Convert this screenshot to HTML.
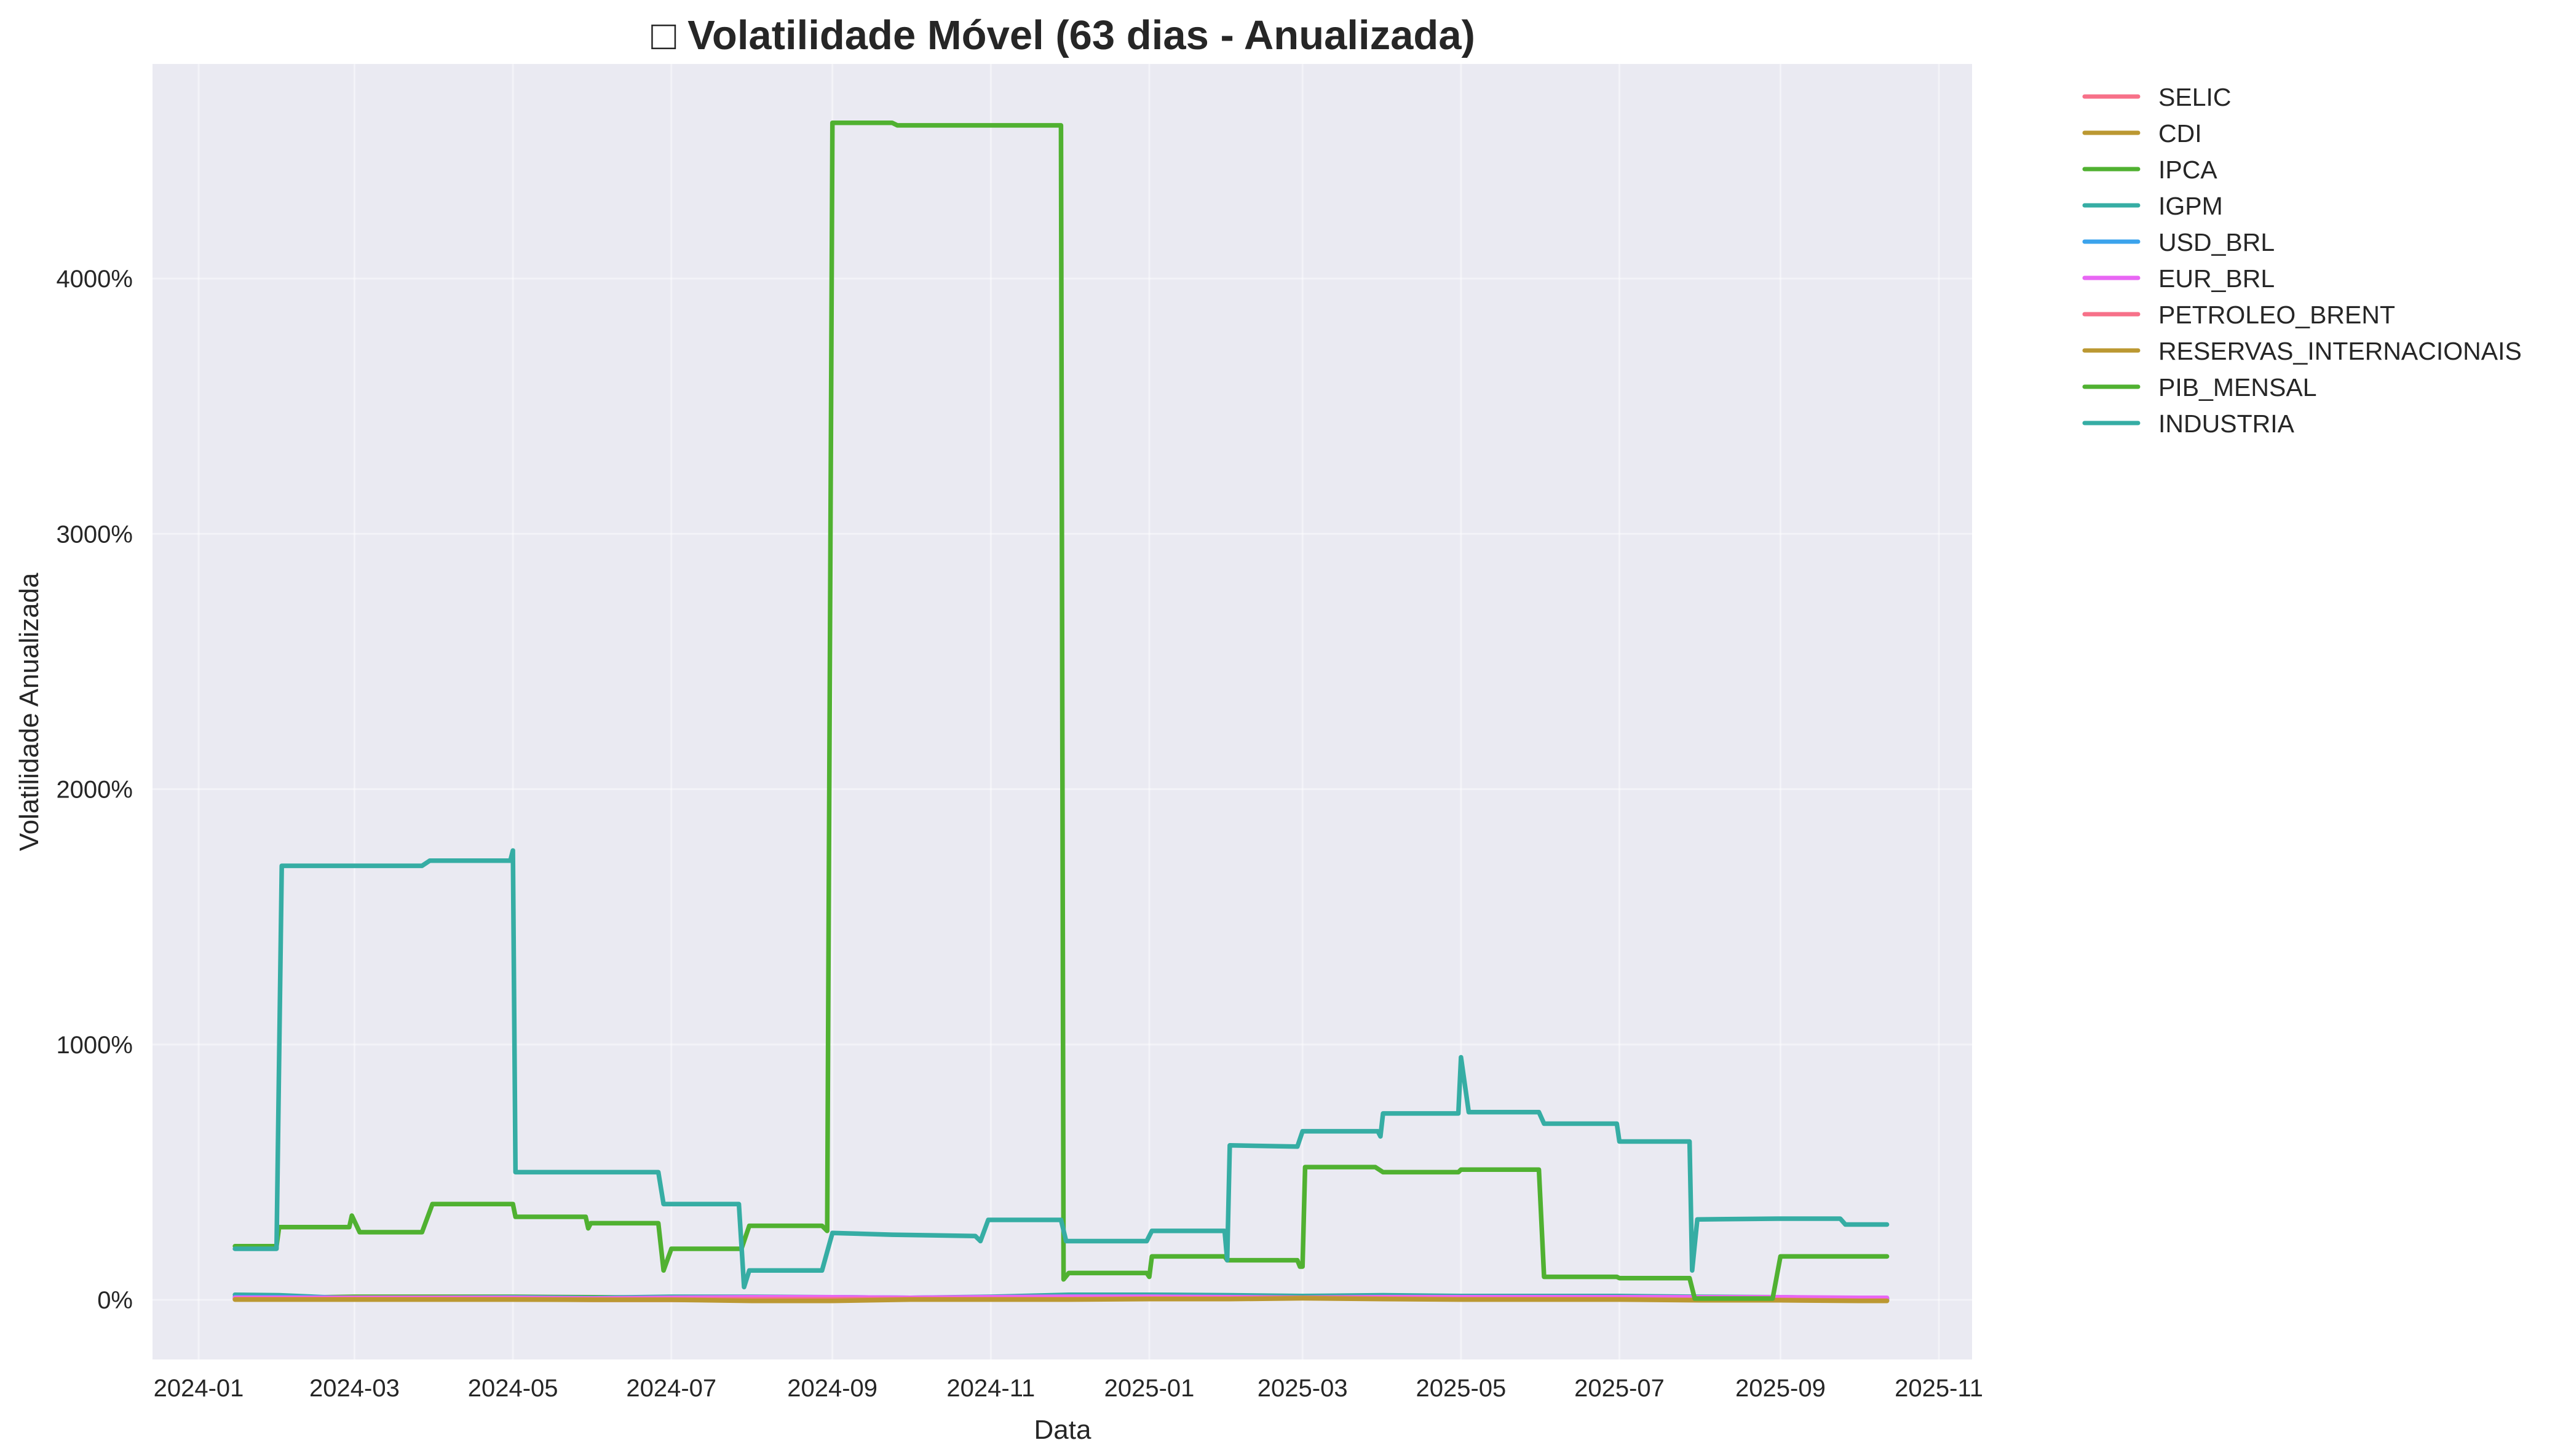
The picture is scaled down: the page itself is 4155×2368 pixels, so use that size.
<!DOCTYPE html>
<html><head><meta charset="utf-8">
<style>
html,body{margin:0;padding:0;background:#fff;}
svg{display:block;font-family:"Liberation Sans","DejaVu Sans",sans-serif;}
</style></head>
<body>
<svg id="chart" width="4155" height="2368" viewBox="0 0 4155 2368" xmlns="http://www.w3.org/2000/svg">
  <rect x="0" y="0" width="4155" height="2368" fill="#ffffff"/>
  <text x="1729" y="80" text-anchor="middle" font-size="67" font-weight="bold" fill="#262626">□ Volatilidade Móvel (63 dias - Anualizada)</text>
  <rect x="248" y="104" width="2959" height="2107" fill="#eaeaf2"/>
  <g id="grid"></g>
  <g id="series"></g>
  <g id="axes"></g>
  <text x="1728" y="2340" text-anchor="middle" font-size="44" fill="#262626">Data</text>
  <text transform="translate(62,1158) rotate(-90)" text-anchor="middle" font-size="44" fill="#262626">Volatilidade Anualizada</text>
  <g id="legend"></g>
</svg>
<script>
const seriesNames = ["SELIC","CDI","IPCA","IGPM","USD_BRL","EUR_BRL","PETROLEO_BRENT","RESERVAS_INTERNACIONAIS","PIB_MENSAL","INDUSTRIA"];
const xTickLabels = ["2024-01","2024-03","2024-05","2024-07","2024-09","2024-11","2025-01","2025-03","2025-05","2025-07","2025-09","2025-11"];
const yTickValues = [0,1000,2000,3000,4000];
const smallDates = ["2024-01-15","2024-02-01","2024-03-01","2024-04-01","2024-05-01","2024-06-01","2024-07-01","2024-08-01","2024-09-01","2024-10-01","2024-11-01","2024-12-01","2025-01-01","2025-02-01","2025-03-01","2025-04-01","2025-05-01","2025-06-01","2025-07-01","2025-08-01","2025-09-01","2025-10-01","2025-10-12"];
const selicValues = [2,2,2,2,2,0,0,0,0,2,2,2,5,5,8,5,3,3,3,0,0,-3,-3];
const cdiValues = [3,3,3,3,3,2,2,-3,-3,3,3,3,5,5,8,5,3,3,3,0,0,-3,-3];
const ipcaValues = [5,8,12,12,12,10,8,5,5,5,8,10,10,12,12,15,15,10,10,5,5,5,5];
const igpmValues = [20,18,5,8,10,8,12,12,10,8,12,20,20,18,15,18,15,15,15,12,10,0,0];
const usdValues = [10,10,8,8,8,5,8,10,10,8,10,12,12,10,8,10,10,10,10,10,10,5,5];
const eurValues = [8,8,8,8,8,5,8,10,10,8,10,12,12,10,8,10,10,10,10,10,10,8,8];
const brentValues = [3,3,3,3,3,2,2,2,2,3,3,3,5,5,8,5,3,3,3,0,0,-3,-3];
const reservasValues = [1,1,1,1,1,0,0,-4,-4,1,1,1,3,3,6,3,1,1,1,-2,-2,-4,-4];
const pibDates = ["2024-01-15","2024-01-31","2024-02-01","2024-02-28","2024-02-29","2024-03-03","2024-03-27","2024-03-31","2024-05-01","2024-05-02","2024-05-29","2024-05-30","2024-05-31","2024-06-26","2024-06-28","2024-07-01","2024-07-28","2024-07-31","2024-08-28","2024-08-30","2024-09-01","2024-09-24","2024-09-26","2024-11-28","2024-11-29","2024-12-01","2024-12-31","2025-01-01","2025-01-02","2025-01-30","2025-01-31","2025-02-27","2025-02-28","2025-03-01","2025-03-02","2025-03-29","2025-04-01","2025-04-30","2025-05-01","2025-05-31","2025-06-02","2025-06-30","2025-07-01","2025-07-28","2025-07-30","2025-08-29","2025-09-01","2025-10-12"];
const pibValues = [210,210,285,285,330,265,265,375,375,325,325,280,300,300,115,200,200,290,290,270,4610,4610,4600,4600,80,105,105,90,170,170,155,155,130,130,520,520,500,500,510,510,90,90,85,85,5,5,170,170];
const indDates = ["2024-01-15","2024-01-31","2024-02-02","2024-03-27","2024-03-30","2024-04-30","2024-05-01","2024-05-02","2024-06-26","2024-06-28","2024-07-27","2024-07-29","2024-07-31","2024-08-28","2024-09-01","2024-09-24","2024-10-26","2024-10-28","2024-10-31","2024-11-28","2024-11-30","2024-12-31","2025-01-02","2025-01-30","2025-01-31","2025-02-01","2025-02-27","2025-03-01","2025-03-30","2025-03-31","2025-04-01","2025-04-30","2025-05-01","2025-05-04","2025-05-31","2025-06-02","2025-06-30","2025-07-01","2025-07-28","2025-07-29","2025-07-31","2025-08-31","2025-09-24","2025-09-26","2025-10-12"];
const indValues = [200,200,1700,1700,1720,1720,1760,500,500,375,375,50,115,115,262,255,250,230,313,313,230,230,270,270,155,605,600,660,660,640,730,730,950,735,735,690,690,620,620,115,315,318,318,295,295];
const seriesColors = ["#f77189","#bb9832","#50b131","#36ada4","#3ba3ec","#e866f4","#f77189","#bb9832","#50b131","#36ada4"];

const NS = "http://www.w3.org/2000/svg";
const X0 = 323, PXDAY = 4.224, Y0 = 2114, PXPER1000 = 415.25;
const base = Date.UTC(2024,0,1);
function xScale(d){const p=d.split("-").map(Number);const t=Date.UTC(p[0],p[1]-1,p[2]||1);return X0+(t-base)/86400000*PXDAY;}
function yScale(v){return Y0 - v/1000*PXPER1000;}
function mk(tag,attrs,parent){const e=document.createElementNS(NS,tag);for(const k in attrs)e.setAttribute(k,attrs[k]);parent.appendChild(e);return e;}

const grid=document.getElementById("grid"), axes=document.getElementById("axes");
xTickLabels.forEach(l=>{
  const x=xScale(l+"-01");
  const g=mk("line",{x1:x,x2:x,y1:104,y2:2211,stroke:"#ffffff","stroke-width":3,"stroke-opacity":0.45},grid);
  
  
  const t=mk("text",{x:x,y:2271,"text-anchor":"middle","font-size":40,fill:"#262626"},axes);
  t.textContent=l;
  
  
});
yTickValues.forEach(v=>{
  const y=yScale(v);
  const g=mk("line",{x1:248,x2:3207,y1:y,y2:y,stroke:"#ffffff","stroke-width":3,"stroke-opacity":0.45},grid);
  
  
  const t=mk("text",{x:216,y:y+14,"text-anchor":"end","font-size":40,fill:"#262626"},axes);
  t.textContent=v+"%";
  
  
});

const seriesDates=[smallDates,smallDates,smallDates,smallDates,smallDates,smallDates,smallDates,smallDates,pibDates,indDates];
const seriesValues=[selicValues,cdiValues,ipcaValues,igpmValues,usdValues,eurValues,brentValues,reservasValues,pibValues,indValues];
const sg=document.getElementById("series");
seriesNames.forEach((n,i)=>{
  const pts=seriesDates[i].map((d,j)=>xScale(d).toFixed(1)+","+yScale(seriesValues[i][j]).toFixed(1)).join(" ");
  const p=mk("polyline",{points:pts,fill:"none",stroke:seriesColors[i],"stroke-width":7.5,"stroke-linejoin":"round","stroke-linecap":"round"},sg);
  
  
});

const lg=document.getElementById("legend");
seriesNames.forEach((n,i)=>{
  const y=157+i*59;
  const l=mk("line",{x1:3390,x2:3477,y1:y,y2:y,stroke:seriesColors[i],"stroke-width":7,"stroke-linecap":"round"},lg);
  
  
  const t=mk("text",{x:3510,y:y+15,"font-size":41,fill:"#262626"},lg);
  t.textContent=n;
  
  
});
</script>
</body></html>
